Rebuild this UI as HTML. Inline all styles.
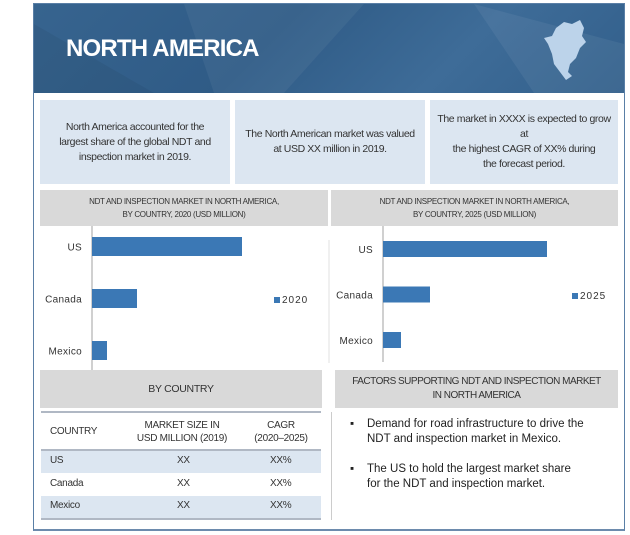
<!DOCTYPE html>
<html><head><meta charset="utf-8"><style>
body{margin:0;width:630px;height:535px;background:#fff;position:relative;overflow:hidden;font-family:"Liberation Sans",sans-serif;color:#333}
.a{position:absolute}
.box{position:absolute;background:#dce6f1;display:flex;align-items:center;justify-content:center;text-align:center;font-size:10.5px;line-height:15px;color:#333;letter-spacing:-0.4px;white-space:nowrap}
.gray{position:absolute;background:#d9d9d9;display:flex;align-items:center;justify-content:center;text-align:center;color:#333;white-space:nowrap}
</style></head><body>
<div class="a" style="left:33px;top:3px;width:590px;height:525px;border:1px solid #5a7fa6;border-bottom:2px solid #6d8bad"></div>
<div class="a" style="left:34px;top:4px;width:590px;height:89px;background:linear-gradient(135deg,#37648f 0%,#2f5b86 40%,#3e6c98 70%,#325f8b 100%);overflow:hidden">
<svg width="590" height="89" style="position:absolute;left:0;top:0"><polygon points="150,0 330,0 250,89 180,89" fill="#ffffff" opacity="0.05"/><polygon points="440,0 590,40 590,89 500,89" fill="#ffffff" opacity="0.06"/><polygon points="0,20 120,89 0,89" fill="#000" opacity="0.05"/></svg>
<div class="a" style="left:32px;top:31px;font-family:'Liberation Sans',sans-serif;font-weight:bold;font-size:24px;color:#fff;letter-spacing:-0.8px">NORTH AMERICA</div>
<svg class="a" style="left:508px;top:14px" width="50" height="66"><path d="M14,10 L22,4 L30,6 L38,2 L42,10 L40,18 L44,24 L38,30 L34,40 L28,46 L26,54 L30,58 L24,62 L18,54 L12,46 L10,36 L6,26 L2,20 L10,18 Z" fill="#bcd3ea"/></svg>
</div>
<div class="box" style="left:40px;top:100px;width:190px;height:84px">North America accounted for the<br>largest share of the global NDT and<br>inspection market in 2019.</div>
<div class="box" style="left:235px;top:100px;width:190px;height:84px">The North American market was valued<br>at USD XX million in 2019.</div>
<div class="box" style="left:430px;top:100px;width:188px;height:84px">The market in XXXX is expected to grow<br>at<br>the highest CAGR of XX% during<br>the forecast period.</div>
<div class="gray" style="left:40px;top:190px;width:288px;height:36px;font-size:8px;line-height:13px;letter-spacing:-0.3px">NDT AND INSPECTION MARKET IN NORTH AMERICA,<br>BY COUNTRY, 2020 (USD MILLION)</div>
<div class="gray" style="left:331px;top:190px;width:287px;height:36px;font-size:8px;line-height:13px;letter-spacing:-0.3px">NDT AND INSPECTION MARKET IN NORTH AMERICA,<br>BY COUNTRY, 2025 (USD MILLION)</div>
<svg id="charts" class="a" style="left:0;top:0" width="630" height="535"></svg>
<div class="gray" style="left:40px;top:370px;width:282px;height:38px;font-size:10.5px;letter-spacing:-0.3px">BY COUNTRY</div>
<div class="gray" style="left:335px;top:370px;width:283px;height:38px;font-size:10px;line-height:14px;letter-spacing:-0.5px">FACTORS SUPPORTING NDT AND INSPECTION MARKET<br>IN NORTH AMERICA</div>
<div class="a" style="left:41px;top:411px;width:280px;font-size:10px;letter-spacing:-0.3px;white-space:nowrap">
<div style="border-top:2px solid #b0b8c4;border-bottom:2px solid #b0b8c4;height:36px;position:relative">
<div class="a" style="left:9px;top:13px">COUNTRY</div>
<div class="a" style="left:91px;top:6px;width:100px;text-align:center;line-height:13px">MARKET SIZE IN<br>USD MILLION (2019)</div>
<div class="a" style="left:200px;top:6px;width:80px;text-align:center;line-height:13px">CAGR<br>(2020–2025)</div></div>
<div style="background:#dce6f1;height:22px;position:relative;border-bottom:1px solid #fff"><span class="a" style="left:9px;top:4px">US</span><span class="a" style="left:136px;top:4px">XX</span><span class="a" style="left:229px;top:4px">XX%</span></div>
<div style="background:#fff;height:22px;position:relative"><span class="a" style="left:9px;top:4px">Canada</span><span class="a" style="left:136px;top:4px">XX</span><span class="a" style="left:229px;top:4px">XX%</span></div>
<div style="background:#dce6f1;height:22px;position:relative;border-bottom:2px solid #b0b8c4"><span class="a" style="left:9px;top:4px">Mexico</span><span class="a" style="left:136px;top:4px">XX</span><span class="a" style="left:229px;top:4px">XX%</span></div>
</div>
<div class="a" style="left:331px;top:412px;width:1px;height:108px;background:#ccc"></div>
<div class="a" style="left:350px;top:417px;width:270px;height:90px;font-family:'Liberation Sans',sans-serif;font-size:11.5px;line-height:15px;color:#222;white-space:nowrap">
<span class="a" style="left:0;top:0">▪</span><span class="a" style="left:17px;top:0">Demand for road infrastructure to drive the<br>NDT and inspection market in Mexico.</span>
<span class="a" style="left:0;top:45px">▪</span><span class="a" style="left:17px;top:45px">The US to hold the largest market share<br>for the NDT and inspection market.</span>
</div>
<script>
const categories=["US","Canada","Mexico"];
const values2020=[150,45,15];
const values2025=[164,47,18];
const svg=document.getElementById('charts');
const NS='http://www.w3.org/2000/svg';
function mk(t,a){const e=document.createElementNS(NS,t);for(const k in a)e.setAttribute(k,a[k]);svg.appendChild(e);return e;}
function drawChart(vals,year,x0,yTop,yBot,rowH,barH,firstY,legX,legY,key){
  const xs=v=>x0+v;
  const ys=i=>firstY+i*rowH;
  const ax=mk('line',{x1:x0,y1:yTop,x2:x0,y2:yBot,stroke:'#d0d0d0','stroke-width':2});
  
  
  vals.forEach((v,i)=>{
    const r=mk('rect',{x:x0,y:ys(i),width:xs(v)-x0,height:barH,fill:'#3b78b5'});
    
    
    const t=mk('text',{x:x0-10,y:ys(i)+barH/2+4,'text-anchor':'end','font-size':10,fill:'#333','font-family':'Liberation Sans, sans-serif','letter-spacing':'0.3'});
    t.textContent=categories[i];
    
    
  });
  const ls=mk('rect',{x:legX,y:legY-6,width:6,height:6,fill:'#3b78b5'});
  
  
  const lt=mk('text',{x:legX+8,y:legY,'font-size':10,fill:'#333','font-family':'Liberation Sans, sans-serif','letter-spacing':'1'});
  lt.textContent=year;
  
  
}
drawChart(values2020,'2020',92,226,372,52,19,237,274,303,'chart-2020');
drawChart(values2025,'2025',383,226,362,45.5,16,241,572,299,'chart-2025');
const sep=mk('line',{x1:329,y1:240,x2:329,y2:363,stroke:'#e0e0e0','stroke-width':1});


</script>
</body></html>
